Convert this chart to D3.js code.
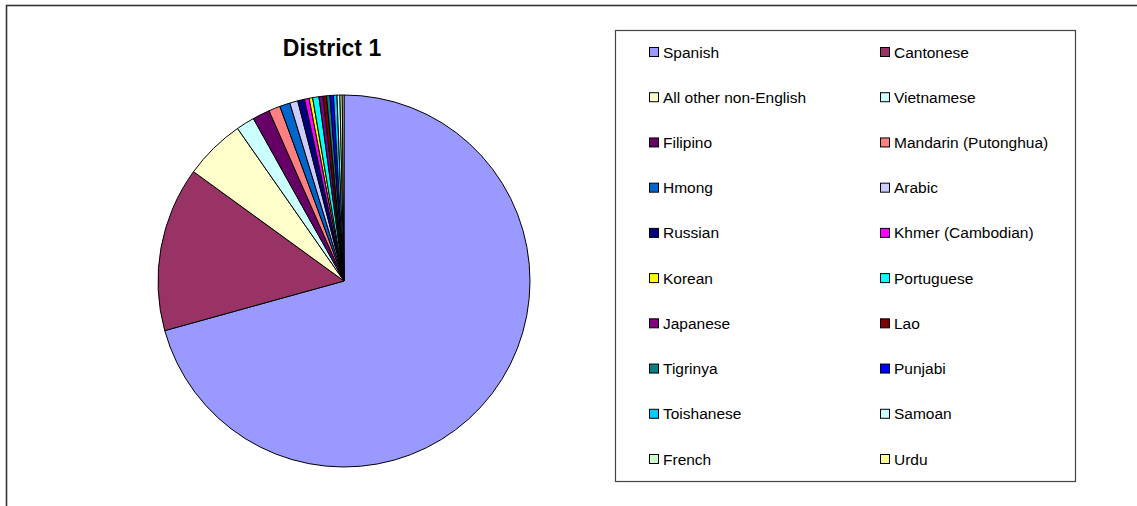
<!DOCTYPE html>
<html>
<head>
<meta charset="utf-8">
<script src="https://cdn.jsdelivr.net/npm/d3@7"></script>
<style>
  html, body { margin: 0; padding: 0; background: #fff; }
  svg { display: block; font-family: "Liberation Sans", Arial, sans-serif; }
</style>
</head>
<body>
<svg id="chart" width="1137" height="506"></svg>
<script>
const title = "District 1";
const languages = ["Spanish", "Cantonese", "All other non-English", "Vietnamese", "Filipino",
  "Mandarin (Putonghua)", "Hmong", "Arabic", "Russian", "Khmer (Cambodian)", "Korean",
  "Portuguese", "Japanese", "Lao", "Tigrinya", "Punjabi", "Toishanese", "Samoan", "French", "Urdu"];
const shares = [70.7, 14.3, 5.3, 1.6, 1.5, 1.0, 0.9, 0.7, 0.6, 0.4, 0.3,
  0.55, 0.35, 0.3, 0.3, 0.3, 0.3, 0.25, 0.2, 0.15];
const colors = ["#9999FF", "#993366", "#FFFFCC", "#CCFFFF", "#660066", "#FF8080", "#0066CC",
  "#CCCCFF", "#000080", "#FF00FF", "#FFFF00", "#00FFFF", "#800080", "#800000", "#008080",
  "#0000FF", "#00CCFF", "#CCFFFF", "#CCFFCC", "#FFFF99"];

const data = languages.map((name, i) => ({ name, value: shares[i], color: colors[i] }));
const svg = d3.select("#chart");

// outer chart border
svg.append("rect").attr("x", 6.5).attr("y", 5.5).attr("width", 1300).attr("height", 700)
  .attr("fill", "none").attr("stroke", "#333").attr("stroke-width", 1.6);

// title
svg.append("text").attr("x", 332).attr("y", 56).attr("text-anchor", "middle")
  .attr("font-size", 23).attr("font-weight", "bold").attr("fill", "#000").text(title);

// pie
const cx = 344, cy = 281, r = 186;
const pie = d3.pie().sort(null).value(d => d.value);
const arc = d3.arc().innerRadius(0).outerRadius(r);
const g = svg.append("g").attr("transform", `translate(${cx},${cy})`);
g.selectAll("path").data(pie(data)).join("path")
  .attr("d", arc).attr("fill", d => d.data.color)
  .attr("stroke", "#000").attr("stroke-width", 1).attr("stroke-linejoin", "round");

// legend
const lx = 615.5, ly = 30.5, lw = 460, lh = 451;
svg.append("rect").attr("x", lx).attr("y", ly).attr("width", lw).attr("height", lh)
  .attr("fill", "#fff").attr("stroke", "#444").attr("stroke-width", 1.2);

const col = d3.scalePoint().domain([0, 1]).range([649, 880]);
const row = d3.scaleLinear().domain([0, 9]).range([52, 459]);
const items = svg.append("g").selectAll("g").data(data).join("g")
  .attr("transform", (d, i) => `translate(${col(i % 2)},${row(Math.floor(i / 2))})`);
items.append("rect").attr("x", 0.5).attr("y", -4.5).attr("width", 9).attr("height", 9)
  .attr("fill", d => d.color).attr("stroke", "#000").attr("stroke-width", 1);
items.append("text").attr("x", 14).attr("y", 5.5).attr("font-size", 15.5).attr("fill", "#000")
  .text(d => d.name);
</script>
</body>
</html>
